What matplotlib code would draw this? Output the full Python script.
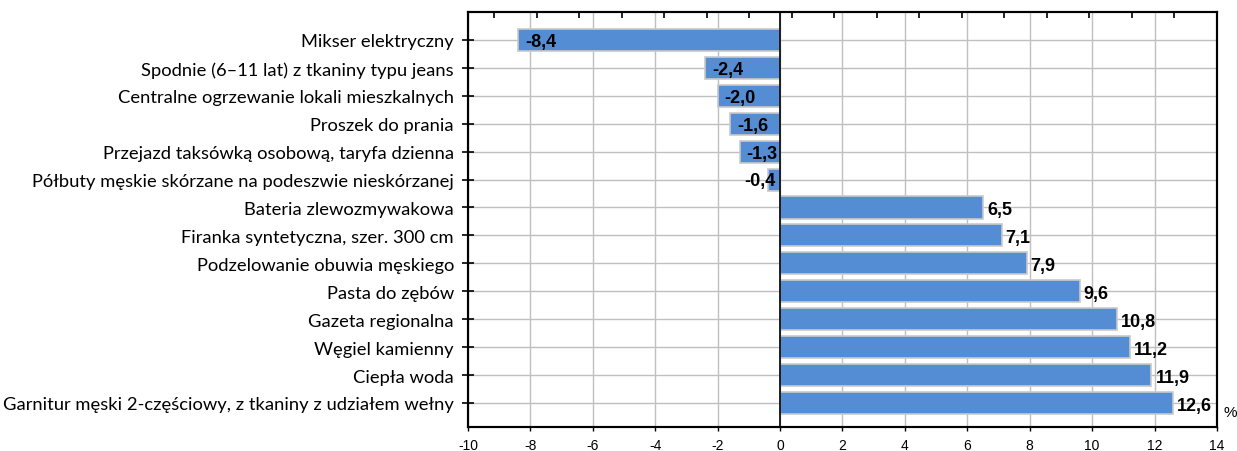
import matplotlib
matplotlib.use("Agg")
import matplotlib.pyplot as plt
from matplotlib.ticker import MultipleLocator

categories = [
    "Mikser elektryczny",
    "Spodnie (6–11 lat) z tkaniny typu jeans",
    "Centralne ogrzewanie lokali mieszkalnych",
    "Proszek do prania",
    "Przejazd taksówką osobową, taryfa dzienna",
    "Półbuty męskie skórzane na podeszwie nieskórzanej",
    "Bateria zlewozmywakowa",
    "Firanka syntetyczna, szer. 300 cm",
    "Podzelowanie obuwia męskiego",
    "Pasta do zębów",
    "Gazeta regionalna",
    "Węgiel kamienny",
    "Ciepła woda",
    "Garnitur męski 2-częściowy, z tkaniny z udziałem wełny",
]
values = [-8.4, -2.4, -2.0, -1.6, -1.3, -0.4, 6.5, 7.1, 7.9, 9.6, 10.8, 11.2, 11.9, 12.6]
x_ticks = [-10, -8, -6, -4, -2, 0, 2, 4, 6, 8, 10, 12, 14]

fig = plt.figure(figsize=(12.37, 4.52), dpi=100)
ax = fig.add_axes([468/1237, 1 - 428/452, (1217-468)/1237, (428-13)/452])

pos = list(range(len(categories)))
ax.barh(pos, values, height=0.79, color="#548DD4", edgecolor="#C9C9C9",
        linewidth=1.2, zorder=3)

ax.set_xlim(-10, 14)
ax.set_ylim(13.86, -1.0)
ax.set_yticks(pos)
ax.set_yticklabels(categories, fontsize=13.2, family=["Lato", "DejaVu Sans"])
ax.set_xticks(x_ticks)
ax.set_xticklabels([str(t) for t in x_ticks], fontsize=10, family="Liberation Sans")

ax.grid(True, axis="both", color="#BFBFBF", linewidth=1, zorder=0)
ax.axvline(0, color="black", linewidth=1.2, zorder=4)

for s in ax.spines.values():
    s.set_linewidth(1.5)
    s.set_color("black")

ax.tick_params(axis="y", left=True, right=False, direction="inout", length=8,
               width=1.2, pad=6)
ax.tick_params(axis="x", direction="out", length=3, width=1, pad=5)

# top ticks (secondary scale) + right inward ticks
ax2 = ax.twiny()
ax2.set_xlim(-0.62, 17)
ax2.xaxis.set_major_locator(MultipleLocator(1))
ax2.tick_params(axis="x", top=True, direction="in", length=4, width=1.2,
                labeltop=False)
ax2.tick_params(axis="y", left=False, right=True, direction="in", length=5,
                width=1.2, labelleft=False, labelright=False)
for s in ax2.spines.values():
    s.set_linewidth(1.5)
    s.set_color("black")

for p, v in zip(pos, values):
    txt = f"{v:.1f}".replace(".", ",")
    if v >= 0:
        ax.text(v + 0.13, p + 0.08, txt, ha="left", va="center", fontsize=13,
                fontweight="bold", family="Liberation Sans", zorder=5)
    elif v + 0.22 + 1.0 < 0:
        ax.text(v + 0.22, p + 0.05, txt, ha="left", va="center", fontsize=13,
                fontweight="bold", family="Liberation Sans", zorder=5)
    else:
        ax.text(-0.15, p + 0.05, txt, ha="right", va="center", fontsize=13,
                fontweight="bold", family="Liberation Sans", zorder=5)

fig.text(1223/1237, 1 - 413/452, "%", fontsize=11, family="Liberation Sans",
         ha="left", va="center")

fig.savefig("out.png", dpi=100, facecolor="white")
